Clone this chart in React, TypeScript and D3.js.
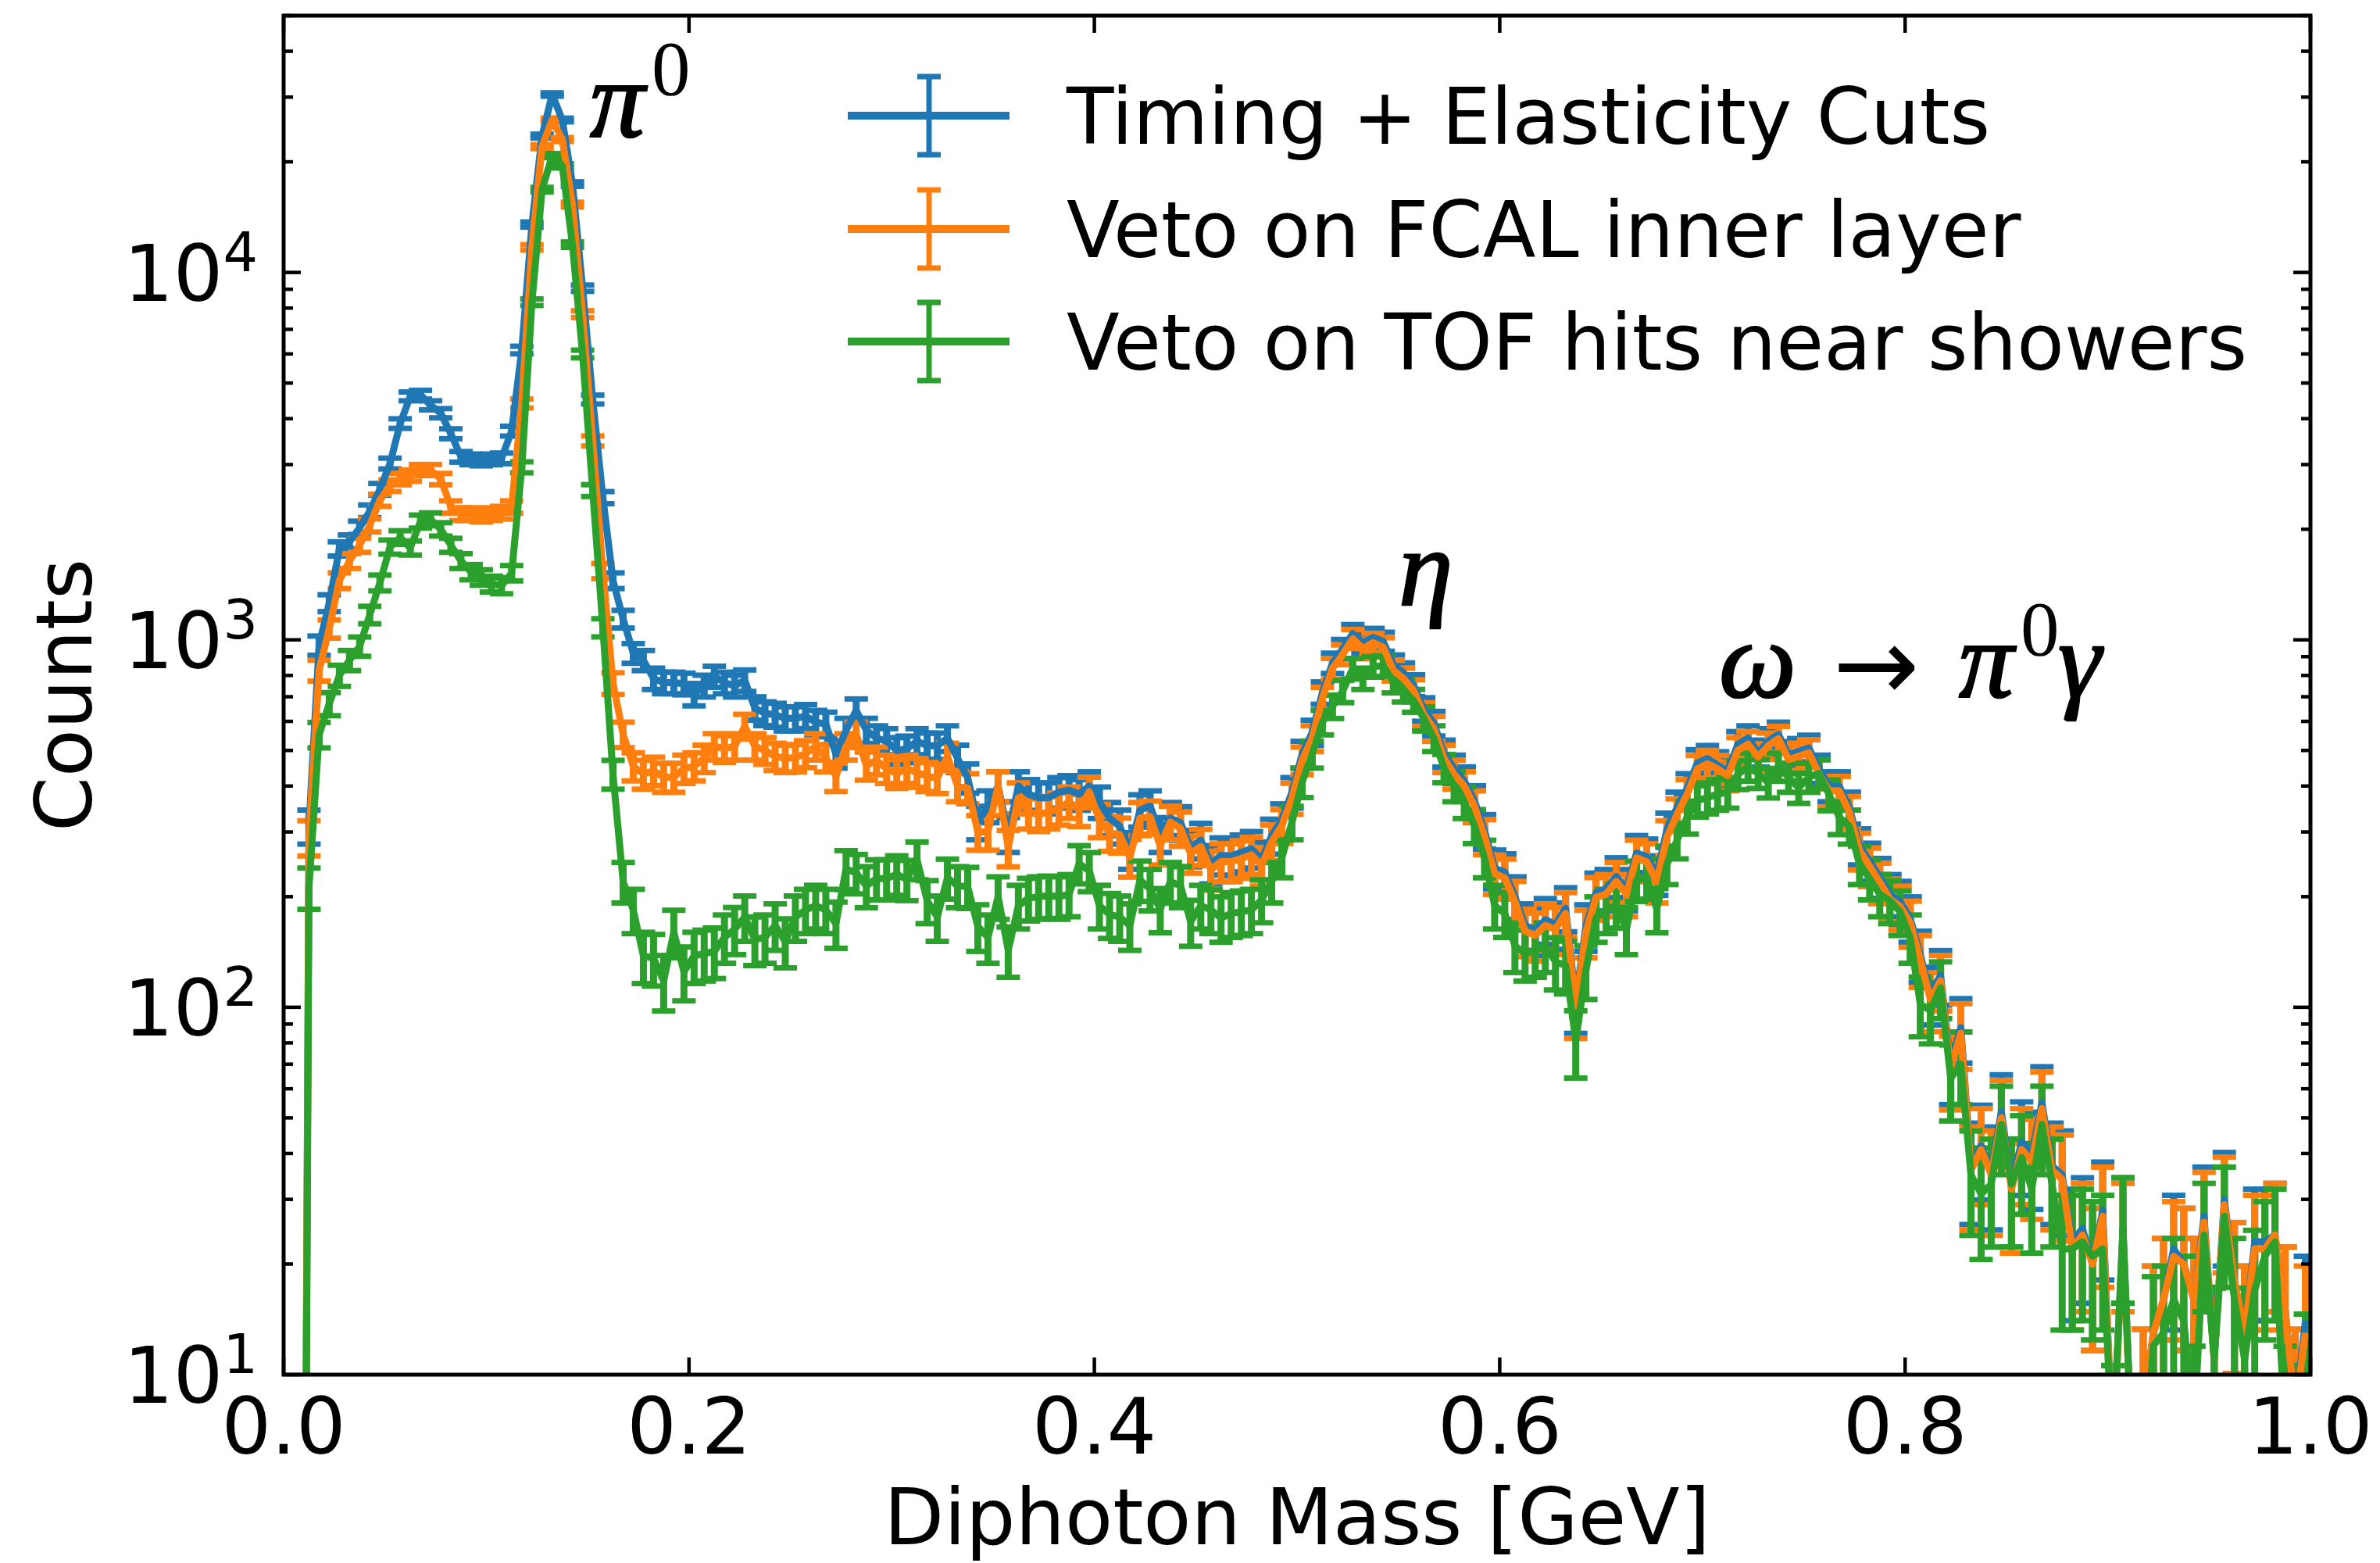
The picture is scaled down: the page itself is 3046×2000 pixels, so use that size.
import React from 'react';
import * as d3 from 'd3';

// histogram binning: 200 bins of 5 MeV between 0 and 1 GeV
const BIN_WIDTH = 0.005;
const N_BINS = 200;

const SERIES_NAMES = ['Timing + Elasticity Cuts', 'Veto on FCAL inner layer', 'Veto on TOF hits near showers'];
const SERIES_COLORS = ['#1f77b4', '#ff7f0e', '#2ca02c'];

// counts per bin
const timingCounts = [
  0, 0, 311, 966, 1260, 1770, 1850, 2020, 2240, 2570,
  3020, 3880, 4600, 4650, 4350, 4140, 3640, 3150, 3100, 3080,
  3100, 3120, 3700, 6150, 13500, 23500, 30500, 26000, 17400, 9060,
  4510, 2440, 1450, 1140, 920, 880, 785, 765, 765, 760,
  711, 750, 795, 765, 750, 776, 652, 631, 625, 611,
  611, 620, 597, 590, 489, 567, 643, 567, 540, 530,
  500, 505, 530, 515, 515, 540, 476, 421, 319, 353,
  400, 296, 400, 380, 372, 372, 385, 390, 380, 400,
  362, 327, 311, 268, 344, 353, 296, 327, 318, 272,
  285, 246, 259, 258, 264, 270, 252, 293, 324, 385,
  488, 560, 718, 865, 945, 1040, 980, 1015, 990, 855,
  812, 752, 648, 593, 492, 446, 413, 365, 302, 239,
  233, 200, 167, 162, 173, 168, 186, 104, 166, 205,
  210, 227, 210, 263, 257, 230, 305, 350, 395, 462,
  475, 456, 440, 520, 540, 492, 530, 553, 487, 497,
  508, 446, 400, 400, 350, 275, 250, 226, 203, 194,
  175, 139, 109, 122, 70, 88, 37, 42, 36, 52,
  33, 43, 40, 55, 37, 35, 23, 25, 20, 28,
  6, 25, 5, 8, 13, 16, 22, 20, 16, 27,
  11, 30, 18, 13, 23, 23, 24, 15, 8, 14,
];

const fcalVetoCounts = [
  0, 0, 290, 826, 1072, 1450, 1640, 1810, 2050, 2400,
  2630, 2740, 2800, 2900, 2900, 2740, 2300, 2200, 2200, 2180,
  2200, 2220, 2300, 4400, 11700, 22000, 26000, 23000, 15300, 7700,
  3480, 1540, 762, 553, 453, 431, 440, 423, 423, 446,
  453, 476, 513, 506, 513, 582, 513, 500, 482, 476,
  478, 490, 513, 478, 425, 513, 553, 455, 470, 446,
  433, 446, 436, 425, 420, 482, 400, 395, 300, 300,
  400, 272, 372, 340, 335, 340, 348, 362, 345, 386,
  323, 298, 295, 256, 327, 330, 275, 319, 307, 262,
  274, 237, 249, 249, 254, 260, 243, 282, 312, 371,
  470, 540, 693, 836, 912, 1007, 946, 983, 955, 826,
  785, 728, 627, 574, 476, 431, 400, 353, 292, 231,
  225, 194, 161, 157, 167, 163, 180, 101, 160, 199,
  203, 220, 203, 255, 249, 220, 290, 335, 380, 445,
  460, 445, 427, 500, 520, 480, 515, 538, 472, 482,
  493, 432, 388, 388, 340, 267, 242, 219, 197, 188,
  170, 135, 105, 118, 68, 85, 36, 41, 35, 50,
  32, 41, 38, 53, 36, 34, 22, 24, 20, 27,
  6, 24, 5, 8, 13, 16, 21, 20, 16, 26,
  11, 29, 18, 13, 22, 22, 24, 15, 8, 13,
];

const tofVetoCounts = [
  0, 0, 212, 552, 670, 800, 880, 960, 1170, 1430,
  1790, 1900, 1780, 2100, 2130, 2000, 1810, 1640, 1530, 1480,
  1420, 1405, 1520, 2950, 8300, 16800, 20800, 19500, 11900, 6000,
  2550, 1080, 431, 220, 184, 138, 136, 118, 160, 125,
  138, 140, 142, 155, 163, 176, 153, 155, 167, 151,
  176, 184, 189, 184, 169, 238, 232, 214, 224, 224,
  230, 223, 252, 195, 176, 225, 214, 213, 166, 155,
  200, 143, 189, 198, 200, 201, 200, 203, 246, 235,
  189, 179, 176, 167, 222, 210, 185, 220, 214, 171,
  189, 184, 175, 180, 182, 184, 196, 220, 255, 319,
  410, 489, 597, 659, 725, 836, 785, 846, 850, 769,
  728, 684, 611, 540, 448, 400, 362, 312, 255, 189,
  180, 147, 140, 143, 147, 133, 130, 81, 126, 175,
  184, 190, 163, 222, 225, 185, 245, 285, 330, 365,
  372, 380, 385, 430, 452, 433, 409, 452, 423, 396,
  423, 433, 379, 329, 311, 245, 224, 203, 195, 182,
  155, 102, 98, 113, 64, 70, 35, 31, 33, 48,
  33, 39, 32, 48, 33, 22, 22, 23, 21, 22,
  6, 25, 5, 5, 12, 13, 16, 14, 7, 24,
  11, 27, 16, 11, 17, 21, 23, 7, 6, 9,
];

// weighted-event errors: sigma^2 = w * N
const ERR_WEIGHT = 3.5;

const X_TICKS = [0, 0.2, 0.4, 0.6, 0.8, 1.0];
const Y_DOMAIN: [number, number] = [10, 5e4];

// peak labels, anchored in data coordinates
const PEAK_LABELS = [
  { id: 'pi0', x: 0.1511, y: 23400 },
  { id: 'eta', x: 0.5501, y: 1245 },
  { id: 'omega', x: 0.7082, y: 699 },
];

const WIDTH = 3046;
const HEIGHT = 2000;
const margin = { top: 20, right: 89, bottom: 241, left: 363 };
const SANS = 'DejaVu Sans, sans-serif';
const SERIF = 'Liberation Serif, Times New Roman, serif';

// greek letters: regular italic with a thin outline to get a medium weight
const greek = { fontSize: 140, fontStyle: 'italic', stroke: 'black', strokeWidth: 2.5 } as const;

const App: React.FC = () => {
  const innerWidth = WIDTH - margin.left - margin.right;
  const innerHeight = HEIGHT - margin.top - margin.bottom;
  const x = d3.scaleLinear().domain([0, 1]).range([0, innerWidth]);
  const y = d3.scaleLog().domain(Y_DOMAIN).range([innerHeight, 0]);
  const safeY = (v: number) => y(v > 0 ? v : 1e-3);

  const centers = d3.range(N_BINS).map(i => (i + 0.5) * BIN_WIDTH);
  const allCounts = [timingCounts, fcalVetoCounts, tofVetoCounts];

  const line = d3
    .line<number>()
    .x((_, i) => x(centers[i]))
    .y(d => safeY(d));

  const lw = 9;
  const capHalf = 15;
  const capW = 7;

  const yTicks = y.ticks();
  const isMajor = (t: number) => Math.abs(Math.log10(t) - Math.round(Math.log10(t))) < 1e-9;

  const legendRows = [148, 293, 437];

  return (
    <svg
      width={WIDTH}
      height={HEIGHT}
      style={{ position: 'absolute', left: 0, top: 0, background: 'white' }}
    >
      <defs>
        <clipPath id="plot-clip">
          <rect x={0} y={0} width={innerWidth} height={innerHeight} />
        </clipPath>
      </defs>
      <rect width={WIDTH} height={HEIGHT} fill="white" />
      <g transform={`translate(${margin.left},${margin.top})`}>
        <g clipPath="url(#plot-clip)">
          {/* error bars under all lines, like matplotlib's errorbar zorder */}
          {allCounts.map((counts, s) => (
            <g key={`bars-${s}`} stroke={SERIES_COLORS[s]}>
              {counts.map((v, i) => {
                if (v <= 0) return null;
                const e = Math.sqrt(ERR_WEIGHT * v);
                const cx = x(centers[i]);
                const yHi = safeY(v + e);
                const yLo = safeY(v - e);
                return (
                  <g key={i}>
                    <line x1={cx} x2={cx} y1={yHi} y2={yLo} strokeWidth={lw} />
                    <line x1={cx - capHalf} x2={cx + capHalf} y1={yHi} y2={yHi} strokeWidth={capW} />
                    <line x1={cx - capHalf} x2={cx + capHalf} y1={yLo} y2={yLo} strokeWidth={capW} />
                  </g>
                );
              })}
            </g>
          ))}
          {allCounts.map((counts, s) => (
            <path
              key={`line-${s}`}
              d={line(counts) || ''}
              fill="none"
              stroke={SERIES_COLORS[s]}
              strokeWidth={lw}
              strokeLinejoin="round"
            />
          ))}
        </g>

        {/* peak annotations */}
        {PEAK_LABELS.map(p => {
          const px = x(p.x);
          const py = y(p.y);
          if (p.id === 'pi0') {
            return (
              <g key={p.id} fontFamily={SERIF}>
                <text x={px} y={py} {...greek}>π</text>
                <text x={px + 79} y={py - 54} fontSize={99}>0</text>
              </g>
            );
          }
          if (p.id === 'eta') {
            return (
              <text key={p.id} x={px} y={py} fontFamily={SERIF} {...greek}>
                η
              </text>
            );
          }
          return (
            <g key={p.id} fontFamily={SERIF}>
              <text x={px} y={py} {...greek}>ω</text>
              <text x={px + 146} y={py + 4} fontSize={132} fontFamily={SANS}>→</text>
              <text x={px + 307} y={py} {...greek}>π</text>
              <text x={px + 386} y={py - 54} fontSize={99}>0</text>
              <text x={px + 434} y={py} {...greek}>γ</text>
            </g>
          );
        })}

        {/* ticks, pointing inward on all four sides */}
        <g stroke="black" strokeWidth={4.5}>
          {X_TICKS.map(t => (
            <g key={`xt-${t}`}>
              <line x1={x(t)} x2={x(t)} y1={innerHeight} y2={innerHeight - 22} />
              <line x1={x(t)} x2={x(t)} y1={0} y2={22} />
            </g>
          ))}
          {yTicks.map(t => {
            const len = isMajor(t) ? 22 : 12;
            return (
              <g key={`yt-${t}`}>
                <line x1={0} x2={len} y1={y(t)} y2={y(t)} />
                <line x1={innerWidth} x2={innerWidth - len} y1={y(t)} y2={y(t)} />
              </g>
            );
          })}
        </g>
        <rect
          x={0}
          y={0}
          width={innerWidth}
          height={innerHeight}
          fill="none"
          stroke="black"
          strokeWidth={5}
        />

        {/* tick labels */}
        <g fontFamily={SANS} fontSize={100} fill="black">
          {X_TICKS.map(t => (
            <text key={`xl-${t}`} x={x(t)} y={innerHeight + 101} textAnchor="middle">
              {t.toFixed(1)}
            </text>
          ))}
          {yTicks.filter(isMajor).map(t => (
            <text key={`yl-${t}`} x={-33} y={y(t) + 36} textAnchor="end">
              <tspan>10</tspan>
              <tspan fontSize={70} dy={-38}>
                {Math.round(Math.log10(t))}
              </tspan>
            </text>
          ))}
        </g>

        {/* axis labels */}
        <text
          x={innerWidth / 2}
          y={HEIGHT - margin.top - 24}
          textAnchor="middle"
          fontFamily={SANS}
          fontSize={100}
        >
          Diphoton Mass [GeV]
        </text>
        <text
          transform={`translate(${117 - margin.left},${innerHeight / 2}) rotate(-90)`}
          textAnchor="middle"
          fontFamily={SANS}
          fontSize={100}
        >
          Counts
        </text>
      </g>

      {/* legend */}
      <g fontFamily={SANS} fontSize={99}>
        {SERIES_NAMES.map((name, s) => {
          const cy = legendRows[s];
          const color = SERIES_COLORS[s];
          return (
            <g key={name}>
              <line x1={1085} x2={1292} y1={cy} y2={cy} stroke={color} strokeWidth={lw + 1} />
              <line x1={1189} x2={1189} y1={cy - 50} y2={cy + 50} stroke={color} strokeWidth={lw - 2} />
              <line x1={1189 - capHalf} x2={1189 + capHalf} y1={cy - 50} y2={cy - 50} stroke={color} strokeWidth={capW} />
              <line x1={1189 - capHalf} x2={1189 + capHalf} y1={cy + 50} y2={cy + 50} stroke={color} strokeWidth={capW} />
              <text x={1365} y={cy + 36}>{name}</text>
            </g>
          );
        })}
      </g>
    </svg>
  );
};

export default App;
